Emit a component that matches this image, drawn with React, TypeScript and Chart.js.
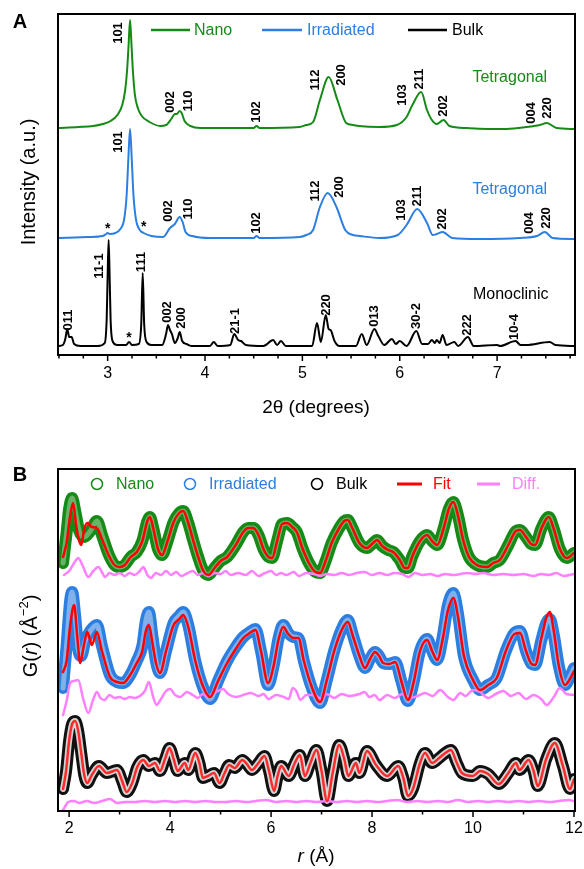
import { useEffect, useRef } from 'react';
import { Chart, registerables } from 'chart.js';
Chart.register(...registerables);

const FONT = "'Liberation Sans', Arial, Helvetica, sans-serif";
const GREEN = '#168a16';
const BLUE = '#2c7ee0';
const RED = '#ff0000';
const PINK = '#ff80ff';

type Pt = [number, number];
type Lab = [string, number, number];

// ---------------- Panel A : XRD (2θ in degrees, intensity in a.u.) ----------------
const xrdTicks = [3, 4, 5, 6, 7];
const xrdMinorTicks = [2.5, 2.75, 3.25, 3.5, 3.75, 4.25, 4.5, 4.75, 5.25, 5.5, 5.75, 6.25, 6.5, 6.75, 7.25, 7.5, 7.75];

const nanoXrd: Pt[] = [
  [2.49, 227], [2.7, 228], [2.85, 229], [2.95, 231], [3.03, 234], [3.1, 240], [3.15, 250], [3.18, 265], [3.2, 285],
  [3.215, 310], [3.23, 335], [3.245, 310], [3.26, 283], [3.28, 260], [3.31, 247], [3.35, 239], [3.43, 233], [3.54, 229],
  [3.6, 230], [3.66, 237], [3.69, 241], [3.71, 241], [3.74, 244], [3.76, 242], [3.79, 234], [3.85, 229], [3.95, 227],
  [4.4, 227], [4.5, 227], [4.53, 229], [4.56, 227], [4.97, 228], [5.04, 230], [5.11, 233], [5.18, 255], [5.27, 278],
  [5.36, 255], [5.45, 232], [5.52, 230], [5.58, 229], [5.79, 228], [5.97, 230], [6.07, 238], [6.13, 250], [6.22, 263],
  [6.28, 245], [6.33, 235], [6.38, 231], [6.45, 235], [6.51, 229], [6.69, 227], [7.03, 226], [7.38, 229], [7.44, 230],
  [7.51, 232], [7.61, 227], [7.8, 226],
];

const irrXrd: Pt[] = [
  [2.49, 117], [2.8, 118], [2.95, 119], [2.985, 121], [3.0, 122], [3.02, 121], [3.08, 122], [3.13, 126], [3.17, 136],
  [3.195, 160], [3.212, 195], [3.23, 226], [3.248, 195], [3.265, 160], [3.29, 136], [3.33, 125], [3.37, 122], [3.45, 119],
  [3.57, 118], [3.64, 127], [3.69, 131], [3.74, 138], [3.77, 133], [3.8, 123], [3.87, 119], [4.05, 117], [4.5, 117],
  [4.53, 119], [4.56, 117], [4.97, 118], [5.04, 120], [5.11, 125], [5.18, 148], [5.26, 162], [5.35, 148], [5.44, 125],
  [5.52, 120], [5.59, 119], [5.79, 117], [5.98, 120], [6.07, 130], [6.18, 146], [6.28, 132], [6.34, 120], [6.38, 121],
  [6.44, 123], [6.54, 117], [6.82, 116], [7.23, 117], [7.41, 119], [7.49, 123], [7.57, 117], [7.8, 116],
];

const bulkXrd: Pt[] = [
  [2.49, 9], [2.54, 10], [2.565, 16], [2.585, 26], [2.605, 18], [2.63, 18], [2.655, 11], [2.72, 9], [2.9, 9], [2.97, 12],
  [2.99, 36], [3.0, 80], [3.01, 115], [3.02, 80], [3.03, 36], [3.05, 14], [3.1, 10], [3.19, 10], [3.22, 13], [3.25, 10],
  [3.32, 11], [3.345, 31], [3.36, 82], [3.375, 31], [3.4, 13], [3.45, 10], [3.56, 10], [3.6, 21], [3.62, 30], [3.64, 25],
  [3.66, 21], [3.69, 12], [3.72, 17], [3.74, 23], [3.765, 14], [3.81, 11], [3.86, 9], [4.05, 9], [4.09, 13], [4.13, 9],
  [4.26, 10], [4.3, 21], [4.34, 15], [4.37, 14], [4.42, 10], [4.6, 9], [4.7, 15], [4.74, 10], [4.78, 14], [4.83, 9],
  [5.1, 9], [5.15, 32], [5.19, 13], [5.24, 40], [5.27, 26], [5.29, 25], [5.33, 14], [5.38, 9], [5.55, 9], [5.61, 21],
  [5.66, 10], [5.74, 26], [5.78, 19], [5.84, 10], [5.92, 16], [5.96, 11], [6.0, 14], [6.07, 9], [6.17, 24], [6.23, 11],
  [6.29, 11], [6.33, 15], [6.36, 12], [6.38, 15], [6.41, 12], [6.44, 20], [6.48, 10], [6.56, 13], [6.6, 9], [6.7, 18],
  [6.76, 9], [7.0, 10], [7.03, 9], [7.19, 14], [7.24, 10], [7.3, 10], [7.54, 13], [7.6, 10], [7.8, 9],
];

const nanoPeakLabels: Lab[] = [
  ['101', 3.11, 322], ['002', 3.64, 253], ['110', 3.83, 254], ['102', 4.53, 243], ['112', 5.13, 275], ['200', 5.4, 280],
  ['103', 6.03, 260], ['211', 6.2, 276], ['202', 6.45, 249], ['004', 7.35, 242], ['220', 7.52, 247],
];
const irrPeakLabels: Lab[] = [
  ['101', 3.11, 213], ['002', 3.62, 144], ['110', 3.83, 146], ['102', 4.53, 132], ['112', 5.13, 164], ['200', 5.38, 168],
  ['103', 6.02, 145], ['211', 6.18, 159], ['202', 6.44, 136], ['004', 7.33, 132], ['220', 7.51, 137],
];
const bulkPeakLabels: Lab[] = [
  ['011', 2.6, 35], ['11-1', 2.92, 89], ['111', 3.35, 93], ['002', 3.61, 43], ['200', 3.76, 37], ['21-1', 4.31, 34],
  ['220', 5.25, 50], ['013', 5.74, 39], ['30-2', 6.17, 39], ['222', 6.7, 30], ['10-4', 7.18, 28],
];
const asterisks: Pt[] = [[3.0, 126], [3.37, 128], [3.22, 17]];
const phaseLabels: [string, number, number, string][] = [
  ['Tetragonal', 7.13, 277, GREEN], ['Tetragonal', 7.13, 165, BLUE], ['Monoclinic', 7.14, 60, '#000'],
];

// ---------------- Panel B : PDF G(r), r in Å ----------------
const pdfTicks = [2, 4, 6, 8, 10, 12];
const pdfMinorTicks = [3, 5, 7, 9, 11];

const nanoFit: Pt[] = [
  [1.88, 254], [1.95, 268], [2.02, 295], [2.08, 308], [2.14, 285], [2.2, 270], [2.24, 266], [2.3, 282], [2.36, 288],
  [2.45, 284], [2.55, 283], [2.65, 272], [2.78, 256], [2.9, 246], [3.0, 244], [3.1, 246], [3.22, 254], [3.34, 259],
  [3.45, 270], [3.55, 290], [3.6, 294], [3.67, 282], [3.76, 262], [3.84, 256], [3.95, 270], [4.07, 289], [4.18, 298],
  [4.26, 300], [4.36, 288], [4.45, 272], [4.55, 255], [4.66, 240], [4.76, 236], [4.88, 243], [5.0, 250], [5.13, 254],
  [5.3, 266], [5.45, 279], [5.55, 283], [5.65, 283], [5.75, 276], [5.85, 262], [5.95, 254], [6.02, 253], [6.12, 270],
  [6.22, 287], [6.32, 288], [6.42, 284], [6.51, 279], [6.62, 263], [6.75, 248], [6.88, 239], [6.97, 238], [7.08, 250],
  [7.2, 268], [7.35, 283], [7.45, 290], [7.52, 291], [7.6, 284], [7.75, 268], [7.9, 263], [8.0, 267], [8.1, 271],
  [8.2, 265], [8.32, 261], [8.42, 259], [8.55, 251], [8.65, 243], [8.71, 243], [8.8, 255], [8.95, 270], [9.09, 276],
  [9.19, 270], [9.29, 266], [9.42, 283], [9.52, 302], [9.61, 309], [9.7, 296], [9.8, 272], [9.92, 254], [10.08, 246],
  [10.28, 244], [10.4, 248], [10.53, 251], [10.7, 266], [10.85, 280], [10.93, 281], [11.05, 274], [11.15, 267],
  [11.23, 266], [11.35, 282], [11.45, 292], [11.5, 294], [11.6, 282], [11.72, 262], [11.86, 253], [12.0, 258],
];
const nanoObsLowR: Pt[] = [
  [1.88, 248], [1.95, 278], [2.0, 302], [2.06, 313], [2.12, 300], [2.2, 280], [2.3, 274], [2.42, 280], [2.55, 290],
  [2.65, 276], [2.78, 257],
];
const nanoObs: Pt[] = [...nanoObsLowR, ...nanoFit.filter(([r]) => r >= 2.9)];
const nanoDiff: Pt[] = [
  [1.9, 236], [2.0, 240], [2.1, 248], [2.18, 253], [2.28, 244], [2.38, 234], [2.48, 240], [2.58, 244], [2.66, 238],
  [2.71, 234], [2.8, 238], [2.9, 236], [3.0, 238], [3.1, 235], [3.2, 238], [3.3, 236], [3.4, 240], [3.47, 244],
  [3.55, 236], [3.62, 233], [3.72, 238], [3.82, 236], [3.92, 240], [4.02, 236], [4.12, 239], [4.22, 235], [4.35, 238],
  [4.45, 240], [4.55, 236], [4.65, 238], [4.76, 235], [4.9, 238], [5.0, 237], [5.1, 240], [5.2, 236], [5.35, 238],
  [5.5, 236], [5.62, 240], [5.75, 235], [5.88, 238], [6.0, 240], [6.1, 236], [6.2, 238], [6.3, 236], [6.45, 239],
  [6.55, 235], [6.7, 238], [6.85, 237], [6.98, 235], [7.1, 237], [7.25, 236], [7.4, 238], [7.55, 236], [7.7, 238],
  [7.85, 239], [8.0, 236], [8.15, 238], [8.3, 236], [8.45, 238], [8.6, 237], [8.72, 234], [8.85, 238], [9.0, 236],
  [9.15, 237], [9.3, 235], [9.45, 237], [9.6, 236], [9.75, 237], [9.9, 238], [10.05, 237], [10.2, 238], [10.4, 236],
  [10.6, 237], [10.8, 236], [11.0, 237], [11.2, 235], [11.35, 237], [11.5, 236], [11.65, 238], [11.8, 235], [12.0, 237],
];

const irrFit: Pt[] = [
  [1.88, 139], [1.95, 150], [2.02, 185], [2.1, 206], [2.16, 175], [2.22, 148], [2.29, 165], [2.36, 179], [2.45, 166],
  [2.55, 179], [2.65, 160], [2.81, 134], [2.95, 129], [3.07, 128], [3.21, 136], [3.34, 148], [3.45, 160], [3.52, 180],
  [3.58, 186], [3.65, 168], [3.72, 148], [3.8, 138], [3.92, 160], [4.07, 186], [4.18, 192], [4.26, 196], [4.36, 184],
  [4.5, 150], [4.65, 125], [4.79, 114], [4.95, 130], [5.13, 148], [5.3, 162], [5.45, 173], [5.58, 178], [5.69, 181],
  [5.8, 160], [5.94, 128], [6.05, 145], [6.15, 172], [6.24, 184], [6.34, 177], [6.44, 173], [6.54, 173], [6.65, 150],
  [6.8, 125], [6.97, 109], [7.1, 130], [7.25, 160], [7.4, 181], [7.52, 189], [7.62, 175], [7.75, 155], [7.86, 143],
  [7.96, 152], [8.06, 159], [8.14, 155], [8.22, 148], [8.34, 147], [8.46, 149], [8.58, 130], [8.71, 111], [8.82, 128],
  [8.95, 160], [9.09, 171], [9.19, 160], [9.29, 151], [9.4, 172], [9.5, 200], [9.61, 213], [9.7, 195], [9.82, 155],
  [10.0, 131], [10.14, 121], [10.3, 126], [10.47, 133], [10.65, 160], [10.82, 177], [10.93, 178], [11.05, 160],
  [11.16, 147], [11.23, 146], [11.35, 172], [11.45, 193], [11.52, 199], [11.6, 180], [11.7, 145], [11.82, 126],
  [11.92, 132], [12.0, 140],
];
const irrObs: Pt[] = [
  [1.88, 123], [1.95, 165], [2.02, 210], [2.06, 219], [2.12, 195], [2.18, 162], [2.24, 155], [2.32, 170], [2.42, 180],
  [2.55, 186], [2.65, 165], [2.81, 136], [2.95, 129], [3.07, 128], [3.21, 136], [3.34, 150], [3.45, 165], [3.52, 190],
  [3.58, 199], [3.65, 175], [3.72, 150], [3.8, 138], [3.92, 160], [4.07, 188], [4.18, 195], [4.26, 199], [4.36, 186],
  [4.5, 150], [4.65, 124], [4.79, 112], [4.95, 130], [5.13, 150], [5.3, 164], [5.45, 174], [5.58, 179], [5.69, 182],
  [5.8, 160], [5.94, 126], [6.05, 145], [6.15, 173], [6.24, 186], [6.34, 178], [6.44, 174], [6.54, 173], [6.65, 150],
  [6.8, 124], [6.97, 108], [7.1, 130], [7.25, 160], [7.4, 182], [7.52, 191], [7.62, 176], [7.75, 155], [7.86, 143],
  [7.96, 152], [8.06, 159], [8.14, 155], [8.22, 148], [8.34, 147], [8.46, 149], [8.58, 130], [8.71, 110], [8.82, 128],
  [8.95, 160], [9.09, 172], [9.19, 160], [9.29, 151], [9.4, 174], [9.5, 205], [9.61, 218], [9.7, 198], [9.82, 155],
  [10.0, 131], [10.14, 121], [10.3, 126], [10.47, 133], [10.65, 160], [10.82, 178], [10.93, 180], [11.05, 160],
  [11.16, 147], [11.23, 146], [11.35, 170], [11.45, 188], [11.52, 192], [11.6, 176], [11.7, 145], [11.82, 126],
  [11.92, 134], [12.0, 143],
];
const irrDiff: Pt[] = [
  [1.88, 96], [1.95, 110], [2.02, 128], [2.1, 130], [2.18, 131], [2.28, 112], [2.38, 98], [2.48, 112], [2.55, 119],
  [2.62, 113], [2.7, 111], [2.8, 116], [2.9, 113], [3.0, 114], [3.1, 112], [3.2, 114], [3.3, 113], [3.4, 115],
  [3.5, 120], [3.58, 129], [3.66, 115], [3.73, 106], [3.82, 112], [3.92, 120], [4.0, 122], [4.1, 116], [4.2, 114],
  [4.33, 119], [4.45, 116], [4.55, 113], [4.65, 117], [4.75, 114], [4.85, 118], [4.95, 120], [5.05, 122], [5.15, 117],
  [5.3, 114], [5.45, 116], [5.6, 118], [5.75, 115], [5.85, 117], [5.95, 112], [6.1, 116], [6.25, 114], [6.35, 112],
  [6.43, 123], [6.5, 120], [6.58, 111], [6.7, 116], [6.85, 116], [7.0, 112], [7.1, 117], [7.25, 113], [7.4, 117],
  [7.55, 115], [7.75, 117], [7.85, 119], [7.95, 114], [8.05, 116], [8.15, 111], [8.3, 116], [8.45, 113], [8.6, 117],
  [8.75, 113], [8.9, 115], [9.05, 118], [9.2, 115], [9.35, 121], [9.5, 114], [9.61, 111], [9.75, 118], [9.85, 115],
  [10.0, 121], [10.14, 119], [10.3, 113], [10.45, 117], [10.6, 120], [10.75, 115], [10.9, 118], [11.05, 112],
  [11.2, 116], [11.35, 112], [11.46, 106], [11.6, 114], [11.72, 123], [11.85, 117], [12.0, 116],
];

const bulkG: Pt[] = [
  [1.88, 22], [1.94, 40], [2.0, 70], [2.06, 87], [2.12, 90], [2.18, 80], [2.24, 58], [2.3, 36], [2.36, 28], [2.45, 36],
  [2.59, 45], [2.75, 38], [2.95, 41], [3.05, 30], [3.14, 19], [3.25, 28], [3.35, 44], [3.47, 51], [3.58, 45], [3.7, 48],
  [3.8, 40], [3.9, 52], [3.99, 63], [4.07, 52], [4.15, 40], [4.29, 48], [4.36, 41], [4.5, 58], [4.58, 48], [4.65, 33],
  [4.75, 35], [4.87, 38], [4.98, 28], [5.08, 38], [5.17, 46], [5.28, 43], [5.43, 51], [5.52, 47], [5.62, 41], [5.75, 48],
  [5.87, 55], [5.96, 40], [6.06, 20], [6.13, 35], [6.2, 45], [6.35, 35], [6.47, 48], [6.57, 56], [6.67, 35], [6.78, 48],
  [6.9, 61], [7.0, 40], [7.11, 10], [7.22, 38], [7.35, 66], [7.45, 52], [7.53, 35], [7.68, 48], [7.75, 38], [7.9, 60],
  [8.08, 46], [8.3, 35], [8.52, 45], [8.62, 33], [8.71, 15], [8.81, 22], [8.95, 48], [9.05, 58], [9.19, 48], [9.33, 53],
  [9.45, 58], [9.56, 61], [9.68, 48], [9.78, 38], [10.0, 35], [10.14, 40], [10.3, 37], [10.51, 27], [10.7, 38],
  [10.85, 48], [10.92, 41], [11.1, 51], [11.2, 40], [11.28, 25], [11.45, 52], [11.62, 68], [11.78, 45], [11.92, 22],
  [12.0, 32],
];
const bulkDiff: Pt[] = [
  [1.88, 1], [1.94, 6], [1.98, 9], [2.1, 10], [2.2, 8], [2.35, 10], [2.5, 8], [2.65, 10], [2.81, 12], [2.95, 8],
  [3.1, 9], [3.3, 9], [3.5, 10], [3.7, 9], [3.9, 10], [4.1, 9], [4.3, 10], [4.5, 9], [4.7, 10], [4.9, 9], [5.1, 9],
  [5.3, 10], [5.5, 9], [5.7, 10], [5.9, 11], [6.1, 9], [6.3, 10], [6.5, 9], [6.7, 10], [6.9, 9], [7.1, 10], [7.3, 9],
  [7.5, 10], [7.7, 9], [7.9, 10], [8.1, 9], [8.3, 10], [8.5, 11], [8.7, 9], [8.9, 10], [9.1, 9], [9.3, 10], [9.5, 9],
  [9.7, 11], [9.9, 9], [10.1, 10], [10.3, 9], [10.5, 10], [10.7, 9], [10.9, 10], [11.1, 9], [11.3, 10], [11.5, 9],
  [11.7, 10], [11.9, 11], [12.0, 10],
];

// ---------------- helpers ----------------
const toXY = (pts: Pt[]) => pts.map(([x, y]) => ({ x, y }));

function lineDs(pts: Pt[], color: string, width: number, order: number) {
  return {
    data: toXY(pts),
    borderColor: color,
    backgroundColor: color,
    borderWidth: width,
    pointRadius: 0,
    fill: false,
    cubicInterpolationMode: 'monotone' as const,
    borderJoinStyle: 'round' as const,
    borderCapStyle: 'round' as const,
    order,
  };
}

type Part = { t: string; f: string; dy?: number };
function drawRich(ctx: CanvasRenderingContext2D, parts: Part[], cx: number, cy: number, rotate: boolean, color = '#000') {
  ctx.save();
  ctx.translate(cx, cy);
  if (rotate) ctx.rotate(-Math.PI / 2);
  ctx.fillStyle = color;
  ctx.textBaseline = 'middle';
  ctx.textAlign = 'left';
  let total = 0;
  for (const p of parts) { ctx.font = p.f; total += ctx.measureText(p.t).width; }
  let x = -total / 2;
  for (const p of parts) {
    ctx.font = p.f;
    ctx.fillText(p.t, x, p.dy || 0);
    x += ctx.measureText(p.t).width;
  }
  ctx.restore();
}

function drawTicksAndFrame(chart: any, major: number[], minor: number[]) {
  const { ctx, chartArea: ca, scales } = chart;
  const x = scales.x;
  ctx.save();
  ctx.strokeStyle = '#000';
  ctx.lineWidth = 1.5;
  ctx.beginPath();
  for (const v of major) { const p = x.getPixelForValue(v); ctx.moveTo(p, ca.bottom); ctx.lineTo(p, ca.bottom + 6); }
  for (const v of minor) { const p = x.getPixelForValue(v); ctx.moveTo(p, ca.bottom); ctx.lineTo(p, ca.bottom + 3.5); }
  ctx.stroke();
  ctx.lineWidth = 2;
  ctx.strokeRect(ca.left, ca.top, ca.right - ca.left, ca.bottom - ca.top);
  ctx.restore();
}

function labelText(ctx: CanvasRenderingContext2D, t: string, x: number, y: number, font: string, color: string, rotate: boolean) {
  ctx.save();
  ctx.translate(x, y);
  if (rotate) ctx.rotate(-Math.PI / 2);
  ctx.font = font;
  ctx.fillStyle = color;
  ctx.textAlign = 'center';
  ctx.textBaseline = 'middle';
  ctx.fillText(t, 0, 0);
  ctx.restore();
}

const panelAPlugin = {
  id: 'panelA',
  afterDraw(chart: any) {
    const { ctx, scales: { x, y } } = chart;
    drawTicksAndFrame(chart, xrdTicks, xrdMinorTicks);
    const bold = `bold 13px ${FONT}`;
    for (const list of [nanoPeakLabels, irrPeakLabels, bulkPeakLabels]) {
      for (const [t, vx, vy] of list) labelText(ctx, t, x.getPixelForValue(vx), y.getPixelForValue(vy), bold, '#000', true);
    }
    for (const [vx, vy] of asterisks) labelText(ctx, '*', x.getPixelForValue(vx), y.getPixelForValue(vy), `bold 14px ${FONT}`, '#000', false);
    for (const [t, vx, vy, c] of phaseLabels) labelText(ctx, t, x.getPixelForValue(vx), y.getPixelForValue(vy), `16px ${FONT}`, c, false);
    // legend
    const items: [string, string, number, number, number][] = [
      ['Nano', GREEN, 151, 190, 194], ['Irradiated', BLUE, 262, 302, 307], ['Bulk', '#000', 408, 447, 452],
    ];
    ctx.save();
    ctx.font = `16px ${FONT}`;
    ctx.textBaseline = 'middle';
    ctx.textAlign = 'left';
    for (const [t, c, x0, x1, tx] of items) {
      ctx.strokeStyle = c; ctx.lineWidth = 2.5;
      ctx.beginPath(); ctx.moveTo(x0, 30); ctx.lineTo(x1, 30); ctx.stroke();
      ctx.fillStyle = c; ctx.fillText(t, tx, 31);
    }
    ctx.restore();
    // panel letter & titles
    labelText(ctx, 'A', 20, 22, `bold 20px ${FONT}`, '#000', false);
    drawRich(ctx, [{ t: '2θ (degrees)', f: `19px ${FONT}` }], 316, 408, false);
    drawRich(ctx, [{ t: 'Intensity (a.u.)', f: `20px ${FONT}` }], 29, 182, true);
  },
};

const panelBPlugin = {
  id: 'panelB',
  afterDraw(chart: any) {
    const { ctx } = chart;
    drawTicksAndFrame(chart, pdfTicks, pdfMinorTicks);
    const ly = 50;
    ctx.save();
    ctx.font = `16px ${FONT}`;
    ctx.textBaseline = 'middle';
    ctx.textAlign = 'left';
    const circles: [string, string, number, number][] = [
      ['Nano', GREEN, 97, 116], ['Irradiated', BLUE, 190, 209], ['Bulk', '#000', 317, 336],
    ];
    for (const [t, c, cx, tx] of circles) {
      ctx.strokeStyle = c; ctx.lineWidth = 1.5;
      ctx.beginPath(); ctx.arc(cx, ly, 5.5, 0, Math.PI * 2); ctx.stroke();
      ctx.fillStyle = c; ctx.fillText(t, tx, ly + 1);
    }
    const lines: [string, string, number, number, number][] = [
      ['Fit', RED, 397, 422, 433], ['Diff.', PINK, 477, 500, 512],
    ];
    for (const [t, c, x0, x1, tx] of lines) {
      ctx.strokeStyle = c; ctx.lineWidth = 3;
      ctx.beginPath(); ctx.moveTo(x0, ly); ctx.lineTo(x1, ly); ctx.stroke();
      ctx.fillStyle = c; ctx.fillText(t, tx, ly + 1);
    }
    ctx.restore();
    labelText(ctx, 'B', 20, 41, `bold 20px ${FONT}`, '#000', false);
    drawRich(ctx, [{ t: 'r', f: `italic 19px ${FONT}` }, { t: ' (Å)', f: `19px ${FONT}` }], 316, 423, false);
    drawRich(ctx, [
      { t: 'G(', f: `20px ${FONT}` }, { t: 'r', f: `italic 20px ${FONT}` }, { t: ') (Å', f: `20px ${FONT}` },
      { t: '−2', f: `13px ${FONT}`, dy: -7 }, { t: ')', f: `20px ${FONT}` },
    ], 31, 202, true);
  },
};

function xScale(min: number, max: number, ticks: number[], height: number, pad: number) {
  return {
    type: 'linear' as const,
    min,
    max,
    grid: { display: false, drawTicks: false },
    border: { display: false },
    ticks: { font: { size: 16, family: FONT }, color: '#000', padding: pad, maxRotation: 0, autoSkip: false },
    afterBuildTicks: (s: any) => { s.ticks = ticks.map((v) => ({ value: v })); },
    afterFit: (s: any) => { s.height = height; s.paddingLeft = 0; s.paddingRight = 0; },
  };
}

export default function App() {
  const refA = useRef<HTMLCanvasElement>(null);
  const refB = useRef<HTMLCanvasElement>(null);

  useEffect(() => {
    Chart.defaults.font.family = FONT;
    const common = {
      animation: false as const,
      responsive: false,
      maintainAspectRatio: false,
      devicePixelRatio: 1,
      events: [] as any[],
    };
    const a = new Chart(refA.current!, {
      type: 'line',
      data: {
        datasets: [
          lineDs(nanoXrd, GREEN, 2, 0),
          lineDs(irrXrd, BLUE, 2, 0),
          lineDs(bulkXrd, '#000', 2, 0),
        ],
      },
      options: {
        ...common,
        layout: { padding: { left: 58, right: 9, top: 14, bottom: 0 } },
        plugins: { legend: { display: false }, tooltip: { enabled: false } },
        scales: {
          x: xScale(2.49, 7.8, xrdTicks, 79, 9) as any,
          y: { display: false, min: 0, max: 341 },
        },
      },
      plugins: [panelAPlugin],
    } as any);

    const b = new Chart(refB.current!, {
      type: 'line',
      data: {
        datasets: [
          lineDs(nanoFit, RED, 2.5, 0),
          lineDs(irrFit, RED, 2.5, 0),
          lineDs(bulkG, '#ff2a2a', 2.5, 0),
          lineDs(nanoDiff, PINK, 2.5, 1),
          lineDs(irrDiff, PINK, 2.5, 1),
          lineDs(bulkDiff, PINK, 2.5, 1),
          lineDs(nanoObs, 'rgba(255,255,255,0.35)', 5, 2),
          lineDs(irrObs, 'rgba(255,255,255,0.4)', 5, 2),
          lineDs(bulkG, '#d4d4d4', 6, 2),
          lineDs(nanoObs, GREEN, 12, 3),
          lineDs(irrObs, BLUE, 12, 3),
          lineDs(bulkG, '#111', 12, 3),
        ],
      },
      options: {
        ...common,
        layout: { padding: { left: 58, right: 9, top: 35, bottom: 0 } },
        plugins: { legend: { display: false }, tooltip: { enabled: false } },
        scales: {
          x: xScale(1.78, 12.02, pdfTicks, 58, 8) as any,
          y: { display: false, min: 0, max: 342 },
        },
      },
      plugins: [panelBPlugin],
    } as any);

    return () => { a.destroy(); b.destroy(); };
  }, []);

  return (
    <div style={{ position: 'absolute', left: 0, top: 0, width: 584, height: 869, background: '#fff' }}>
      <canvas ref={refA} width={584} height={434} style={{ position: 'absolute', left: 0, top: 0, width: 584, height: 434 }} />
      <canvas ref={refB} width={584} height={435} style={{ position: 'absolute', left: 0, top: 434, width: 584, height: 435 }} />
    </div>
  );
}
